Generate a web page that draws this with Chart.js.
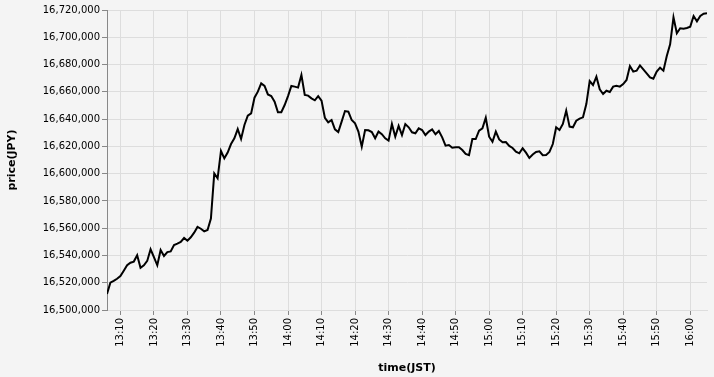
<!DOCTYPE html>
<html>
<head>
<meta charset="utf-8">
<script src="https://cdn.jsdelivr.net/npm/chart.js@4.4.1/dist/chart.umd.min.js"></script>
<style>
  html,body{margin:0;padding:0;background:#f4f4f4;}
  #wrap{width:714px;height:377px;position:relative;}
</style>
</head>
<body>
<div id="wrap"><canvas id="priceChart"></canvas></div>
<script>
/* ---------------- data (1-minute samples) ---------------- */
const times=[
  "13:06","13:07","13:08","13:09","13:10","13:11","13:12","13:13","13:14","13:15",
  "13:16","13:17","13:18","13:19","13:20","13:21","13:22","13:23","13:24","13:25",
  "13:26","13:27","13:28","13:29","13:30","13:31","13:32","13:33","13:34","13:35",
  "13:36","13:37","13:38","13:39","13:40","13:41","13:42","13:43","13:44","13:45",
  "13:46","13:47","13:48","13:49","13:50","13:51","13:52","13:53","13:54","13:55",
  "13:56","13:57","13:58","13:59","14:00","14:01","14:02","14:03","14:04","14:05",
  "14:06","14:07","14:08","14:09","14:10","14:11","14:12","14:13","14:14","14:15",
  "14:16","14:17","14:18","14:19","14:20","14:21","14:22","14:23","14:24","14:25",
  "14:26","14:27","14:28","14:29","14:30","14:31","14:32","14:33","14:34","14:35",
  "14:36","14:37","14:38","14:39","14:40","14:41","14:42","14:43","14:44","14:45",
  "14:46","14:47","14:48","14:49","14:50","14:51","14:52","14:53","14:54","14:55",
  "14:56","14:57","14:58","14:59","15:00","15:01","15:02","15:03","15:04","15:05",
  "15:06","15:07","15:08","15:09","15:10","15:11","15:12","15:13","15:14","15:15",
  "15:16","15:17","15:18","15:19","15:20","15:21","15:22","15:23","15:24","15:25",
  "15:26","15:27","15:28","15:29","15:30","15:31","15:32","15:33","15:34","15:35",
  "15:36","15:37","15:38","15:39","15:40","15:41","15:42","15:43","15:44","15:45",
  "15:46","15:47","15:48","15:49","15:50","15:51","15:52","15:53","15:54","15:55",
  "15:56","15:57","15:58","15:59","16:00","16:01","16:02","16:03","16:04","16:05"
];
const prices=[
  16511700,16520000,16521300,16522900,16524900,16528800,16532800,16534700,16535500,16540100,
  16531000,16532800,16536000,16544500,16538700,16532800,16544000,16539600,16542500,16543000,
  16547700,16548700,16549900,16552800,16550800,16553300,16556700,16560900,16559600,16557700,
  16558700,16567000,16600200,16596600,16616600,16611200,16615500,16621700,16625900,16632700,
  16625400,16635700,16642500,16644200,16655700,16660100,16666200,16664300,16658100,16656900,
  16652800,16645000,16645000,16650300,16656900,16664300,16663800,16663100,16672300,16657700,
  16657200,16655200,16653800,16656900,16653500,16641000,16637600,16639300,16632500,16630500,
  16638100,16645900,16645400,16639300,16636900,16630800,16619800,16632000,16631800,16630500,
  16625900,16630800,16628900,16625900,16624200,16636400,16627100,16635000,16628300,16636400,
  16634000,16630300,16629600,16633200,16632000,16628300,16630800,16632500,16628900,16631300,
  16626600,16620500,16621000,16619000,16619300,16619300,16617300,16614400,16613500,16625400,
  16625400,16631500,16633200,16641000,16627100,16623400,16630800,16625100,16623000,16623200,
  16620300,16618800,16616100,16614900,16618600,16615400,16611500,16614000,16615900,16616400,
  16613500,16613700,16615900,16621700,16634000,16632000,16636400,16646200,16634500,16634000,
  16638800,16640300,16641300,16651000,16667900,16665000,16671100,16661800,16658400,16660800,
  16659900,16663800,16664500,16663800,16665700,16668700,16678900,16674800,16675500,16679400,
  16676500,16673600,16670600,16669600,16674800,16677700,16675500,16686300,16694800,16714600,
  16702900,16706600,16706300,16706800,16707800,16715600,16711700,16715600,16717300,16717600
];
const xTickLabels=["13:10","13:20","13:30","13:40","13:50","14:00","14:10","14:20","14:30",
  "14:40","14:50","15:00","15:10","15:20","15:30","15:40","15:50","16:00"];
const yMin=16500000, yMax=16720000, yStep=20000;

/* ---------------- helpers ---------------- */
const toMin=s=>{const [h,m]=s.split(":").map(Number);return h*60+m;};
const fmtMin=v=>{const h=Math.floor(v/60),m=Math.round(v%60);return h+":"+String(m).padStart(2,"0");};

const FONT="'DejaVu Sans', sans-serif";
const points=times.map((t,i)=>({x:toMin(t),y:prices[i]}));

new Chart(document.getElementById("priceChart"),{
  type:"line",
  data:{datasets:[{
    label:"price",data:points,borderColor:"#000",borderWidth:2,
    pointRadius:0,tension:0,fill:false
  }]},
  options:{
    responsive:true,maintainAspectRatio:false,animation:false,
    layout:{padding:{top:10,right:7,left:0,bottom:0}},
    plugins:{legend:{display:false},tooltip:{enabled:false}},
    scales:{
      x:{
        type:"linear",min:toMin(times[0]),max:toMin(times[times.length-1]),
        afterBuildTicks:ax=>{ax.ticks=xTickLabels.map(l=>({value:toMin(l)}));},
        afterFit:sc=>{sc.height=67;},
        grid:{color:"#ddd",tickColor:"#888",tickLength:5},
        border:{color:"#ddd"},
        ticks:{autoSkip:false,minRotation:90,maxRotation:90,padding:3,color:"#000",
          font:{family:FONT,size:10},callback:v=>fmtMin(v)},
        title:{display:true,text:"time(JST)",color:"#000",
          font:{family:FONT,size:11,weight:"bold"},padding:{top:4,bottom:2}}
      },
      y:{
        min:yMin,max:yMax,
        afterFit:sc=>{sc.width=107;},
        grid:{color:"#ddd",tickColor:"#888",tickLength:5},
        border:{color:"#888"},
        ticks:{stepSize:yStep,padding:2,color:"#000",font:{family:FONT,size:10},
          callback:v=>Number(v).toLocaleString("en-US")},
        title:{display:true,text:"price(JPY)",color:"#000",
          font:{family:FONT,size:11,weight:"bold"},padding:{top:6,bottom:4}}
      }
    }
  }
});
</script>
</body>
</html>
